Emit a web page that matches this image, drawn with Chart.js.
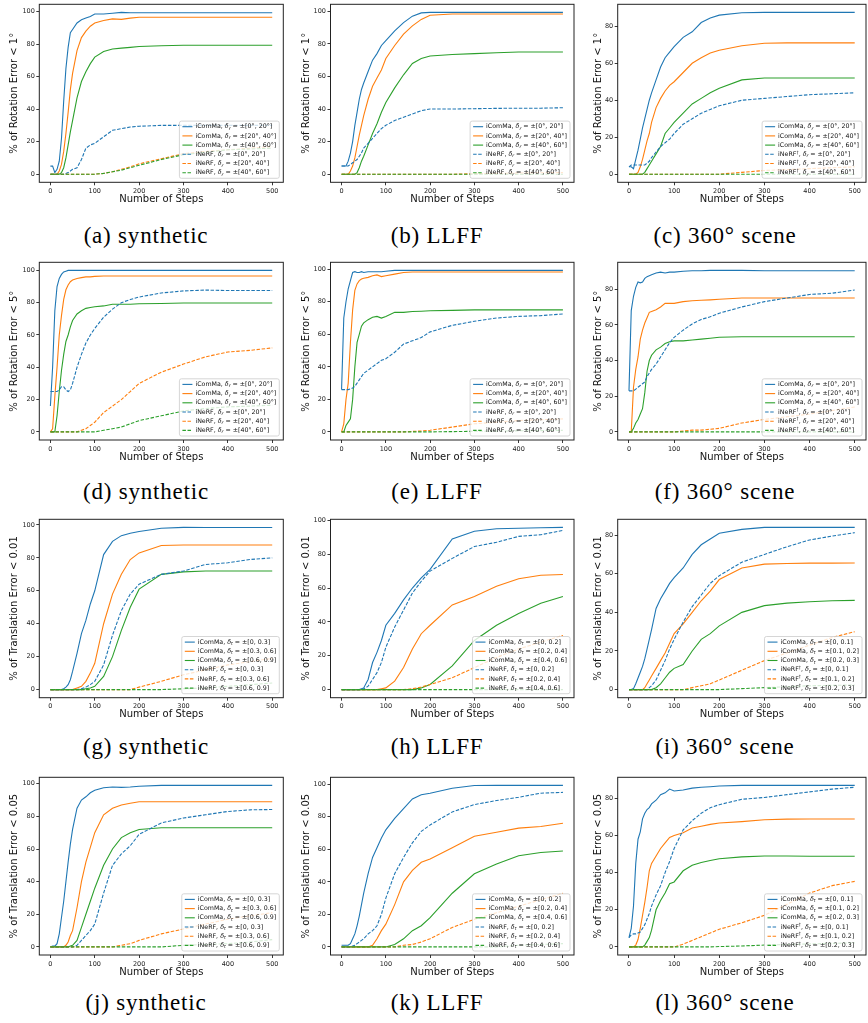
<!DOCTYPE html>
<html><head><meta charset="utf-8">
<script src="https://cdn.jsdelivr.net/npm/chart.js@4.4.1/dist/chart.umd.min.js"></script>
<style>
html,body{margin:0;padding:0;background:#fff;}
body{width:868px;height:1023px;position:relative;overflow:hidden;}
canvas{position:absolute;}
.cap{position:absolute;font-family:"Liberation Serif","Times New Roman",serif;font-size:23px;line-height:23px;color:#000;white-space:nowrap;transform:translateX(-50%);letter-spacing:0.8px;}
</style></head><body>
<script>
// ---------- data ----------
const STEPS = [0,5,10,15,20,25,30,35,40,45,50,60,70,80,90,100,120,140,160,180,200,250,300,350,400,450,500];
const X_TICKS = [0,100,200,300,400,500];
const Y_TICKS = [0,20,40,60,80,100];

const LABELS_ROT = ['iComMa, δᵣ = ±[0°, 20°]','iComMa, δᵣ = ±[20°, 40°]','iComMa, δᵣ = ±[40°, 60°]','iNeRF, δᵣ = ±[0°, 20°]','iNeRF, δᵣ = ±[20°, 40°]','iNeRF, δᵣ = ±[40°, 60°]'];
const LABELS_ROT_360 = ['iComMa, δᵣ = ±[0°, 20°]','iComMa, δᵣ = ±[20°, 40°]','iComMa, δᵣ = ±[40°, 60°]','iNeRF†, δᵣ = ±[0°, 20°]','iNeRF†, δᵣ = ±[20°, 40°]','iNeRF†, δᵣ = ±[40°, 60°]'];
const LABELS_T_SYN = ['iComMa, δₜ = ±[0, 0.3]','iComMa, δₜ = ±[0.3, 0.6]','iComMa, δₜ = ±[0.6, 0.9]','iNeRF, δₜ = ±[0, 0.3]','iNeRF, δₜ = ±[0.3, 0.6]','iNeRF, δₜ = ±[0.6, 0.9]'];
const LABELS_T_LLFF = ['iComMa, δₜ = ±[0, 0.2]','iComMa, δₜ = ±[0.2, 0.4]','iComMa, δₜ = ±[0.4, 0.6]','iNeRF, δₜ = ±[0, 0.2]','iNeRF, δₜ = ±[0.2, 0.4]','iNeRF, δₜ = ±[0.4, 0.6]'];
const LABELS_T_360 = ['iComMa, δₜ = ±[0, 0.1]','iComMa, δₜ = ±[0.1, 0.2]','iComMa, δₜ = ±[0.2, 0.3]','iNeRF†, δₜ = ±[0, 0.1]','iNeRF†, δₜ = ±[0.1, 0.2]','iNeRF†, δₜ = ±[0.2, 0.3]'];

// (a) synthetic, rotation < 1°
const A_IC1 = [5,5,1,3,8,22,45,65,78,87,89,93,95,96,97,98.5,98.5,99,99.5,99.3,99.3,99.3,99.3,99.3,99.3,99.3,99.3];
const A_IC2 = [0,0,0,0,2,6,14,25,38,52,62,76,84,88,91,93,94.5,95.5,95.2,96,96.5,96.5,96.5,96.5,96.5,96.5,96.5];
const A_IC3 = [0,0,0,0,0,1,4,10,18,26,33,47,57,63,68,72,75.5,77,77.5,78,78.5,79,79.3,79.3,79.3,79.3,79.3];
const A_IN1 = [0,0,0,0,0,0,0,0.5,1,2,3,4,9,16,18,19,23,27,28,29,29.5,30,30,30,30,30,30];
const A_IN2 = [0,0,0,0,0,0,0,0,0,0,0,0,0,0,0,0,0.5,1.5,3,4.5,6.4,9.5,12.6,14,15,16,17];
const A_IN3 = [0,0,0,0,0,0,0,0,0,0,0,0,0,0,0,0,0.5,1.5,2.5,4,5.5,9,12,13.5,15,15.5,16];
// (b) LLFF, rotation < 1°
const B_IC1 = [5,5,5,8,13,20,30,38,46,52,56,63,70,74,79,82,88,93,97,99,99.3,99.3,99.3,99.3,99.3,99.3,99.3];
const B_IC2 = [0,0,0,0,2,5,10,17,24,30,36,46,54,59,64,71,79,86,91,95,97.5,98.3,98.3,98.3,98.3,98.3,98.3];
const B_IC3 = [0,0,0,0,0,0,0,1,4,8,11,18,25,31,38,44,53,61,68,71,72.5,73.5,74,74.5,75,75,75];
const B_IN1 = [5,5,5,5,6,7,8,9,11,13,16,19,22,25,28,30,33,35,37,39,40,40,40.2,40.4,40.5,40.5,40.8];
const B_IN2 = [0,0,0,0,0,0,0,0,0,0,0,0,0,0,0,0,0,0,0,0,0,0,0.3,0.5,0.7,0.9,1];
const B_IN3 = [0,0,0,0,0,0,0,0,0,0,0,0,0,0,0,0,0,0,0,0,0,0,0,0,0,0,0];
// (c) 360° scene, rotation < 1°
const C_IC1 = [4,4,3,8,13,19,25,30,35,40,44,51,58,63,66,69,74,77,82,84.5,86,87.3,87.5,87.5,87.5,87.5,87.5];
const C_IC2 = [0,0,0,0,1,4,8,13,18,22,28,36,41,45,48,50,55,60,63,65.5,67,69.5,70.8,71,71,71,71];
const C_IC3 = [0,0,0,0,0,0,0,1,3,5,7,11,15,22,25,28,33,38,41,44,46.5,51,52,52,52,52,52];
const C_IN1 = [4,5,5,5,5,5,5,5,6,7,9,12,15,17,19,22,27,30,33,35,37,40,41,42,43,43.5,44];
const C_IN2 = [0,0,0,0,0,0,0,0,0,0,0,0,0,0,0,0,0,0,0,0,0,1,2,2.5,3,3.5,4];
const C_IN3 = [0,0,0,0,0,0,0,0,0,0,0,0,0,0,0,0,0,0,0,0,0,0,0,0,0,0,0];
// (d) synthetic, rotation < 5°
const D_IC1 = [16,40,75,90,95,97.5,99,99.5,100,100,100,100,100,100,100,100,100,100,100,100,100,100,100,100,100,100,100];
const D_IC2 = [0,2,22,40,60,72,82,88,91,93,94,95,95.5,96,96,96.3,96.5,96.5,96.5,96.5,96.5,96.5,96.5,96.5,96.5,96.5,96.5];
const D_IC3 = [0,0,0,10,25,38,48,56,60,65,69,73,75,76.5,77,77.5,78,79,79,79,79.3,79.5,79.8,79.8,79.8,79.8,79.8];
const D_IN1 = [25,25,25,25,26,28,28,26,25,26,30,40,48,55,60,64,71,76,80,82,83.5,86,87.3,87.8,87.5,87.5,87.5];
const D_IN2 = [0,0,0,0,0,0,0,0,0,0,0,0,1,2,4,6,12,16,20,25,30,37,42,46.5,49.5,50.5,52];
const D_IN3 = [0,0,0,0,0,0,0,0,0,0,0,0,0,0,0,0,1,2,3,5,7,10,13,14.5,15.5,16,16.5];
// (e) LLFF, rotation < 5°
const E_IC1 = [26,70,80,88,93,98,98.5,98,98,98.5,98,98.5,98.5,98.5,98.5,98.8,99.3,99.3,99.3,99.3,99.3,99.3,99.3,99.3,99.3,99.3,99.3];
const E_IC2 = [0,5,20,30,55,75,87,91,93,94,94.5,95,96,96.5,95.5,96,97,98,98.3,98.3,98.3,98.3,98.3,98.3,98.3,98.3,98.3];
const E_IC3 = [0,0,4,6,8,20,40,55,60,65,67,69,70.5,71,70,71,73.5,73.5,74,74.2,74.5,74.7,75,75,75,75,75];
const E_IN1 = [26,26,26,26,26.5,27,28,30,32,34,36,38,40,42,44,45,49,54,56,58,61.5,65.5,68,70,71,71.5,72.5];
const E_IN2 = [0,0,0,0,0,0,0,0,0,0,0,0,0,0,0,0,0,0,0.3,0.6,1,3,5,6,7,7.5,8];
const E_IN3 = [0,0,0,0,0,0,0,0,0,0,0,0,0,0,0,0,0,0,0,0,0,0.2,0.4,0.5,0.7,0.8,1];
// (f) 360° scene, rotation < 5°
const F_IC1 = [23,68,76,81,84,83.5,84,86,87,87.5,88,89,89.5,89,89.5,89.5,90,90.3,90.3,90.5,90.5,90.5,90.3,90.3,90.3,90.3,90.3];
const F_IC2 = [0,0,25,35,42,52,57,61,64,67,67.5,68.5,70,72,72,72,73,73.5,73.8,74,74.3,75,75,75,75,75,75];
const F_IC3 = [0,0,2,5,7,10,13,22,34,40,43,46,47.5,49.5,50.5,51,51,51.5,52,52.5,53,53.3,53.3,53.3,53.3,53.3,53.3];
const F_IN1 = [23,23,23,24,25,26,27,28,31,33,35,38,42,46,50,53,57,60.5,63,64.5,66.5,70,73,75,77,77.7,79.5];
const F_IN2 = [0,0,0,0,0,0,0,0,0,0,0,0,0,0,0,0,0.5,1,1,1.5,2,5,7,8.5,10,12,14];
const F_IN3 = [0,0,0,0,0,0,0,0,0,0,0,0,0,0,0,0,0,0,0,0,0,0,0,0,0,0,0];
// (g) synthetic, translation < 0.01
const G_IC1 = [0,0,0,0,0,0,0.5,1.5,3,6,11,22,34,42,52,60,82,90,93.5,95,96,98,98.5,98.4,98.4,98.4,98.4];
const G_IC2 = [0,0,0,0,0,0,0,0,0,0,0,1,2,5,10,16,40,58,70,79,83,87.5,87.8,87.8,87.8,87.8,87.8];
const G_IC3 = [0,0,0,0,0,0,0,0,0,0,0,0,0,0.5,1,2,8,20,36,50,61,70,71.5,72,72,72,72];
const G_IN1 = [0,0,0,0,0,0,0,0,0,0,0,0,0.5,1.5,3,5,15,33,48,58,64,70,72,76,77,79,80];
const G_IN2 = [0,0,0,0,0,0,0,0,0,0,0,0,0,0,0,0,0,0,0,0,1.5,5,9,12,15,17,19];
const G_IN3 = [0,0,0,0,0,0,0,0,0,0,0,0,0,0,0,0,0,0,0,0,0,0,0.5,1,2,3,4];
// (h) LLFF, translation < 0.01
const H_IC1 = [0,0,0,0,0,0,0,0,0,0.5,1,6,16,22,29,38,45,53,60,66,71,89,93.5,95,95.3,95.6,95.8];
const H_IC2 = [0,0,0,0,0,0,0,0,0,0,0,0,0,0,0.5,1,5,13,24,33,38,50,55,61,65.5,67.5,68];
const H_IC3 = [0,0,0,0,0,0,0,0,0,0,0,0,0,0,0,0,0,0,0,1,3,14,29,38,45,51,55];
const H_IN1 = [0,0,0,0,0,0,0,0,0,0,0.5,2,6,10,16,25,37,47,57,64,70,77.5,84.5,87,90.5,91.5,94];
const H_IN2 = [0,0,0,0,0,0,0,0,0,0,0,0,0,0,0,0,0,0,0.5,1.5,3,7,13,19,24,28,32];
const H_IN3 = [0,0,0,0,0,0,0,0,0,0,0,0,0,0,0,0,0,0,0,0,0,0,0,0,0,0,0];
// (i) 360° scene, translation < 0.01
const I_IC1 = [0,0,0.5,3,6,9,12,16,21,26,31,42,47,51,55,58,63,70,75,78,81,83,84,84,84,84,84];
const I_IC2 = [0,0,0,0,0,0,0,1,3,5,7,11,15,19,24,29,34,40,46,51,57,63,65,65.3,65.5,65.5,65.6];
const I_IC3 = [0,0,0,0,0,0,0,0,0,0,0,1,3,6,9,11,13,20,26,29,33,40,43.5,44.8,45.5,46,46.2];
const I_IN1 = [0,0,0,0,0,0,0,0,0,1,2,5,10,15,21,26,35,43,49,55,59,66,70,74,77.5,79.5,81.3];
const I_IN2 = [0,0,0,0,0,0,0,0,0,0,0,0,0,0,0,0,0,1,2,3,5,10,15,19,23,27,30];
const I_IN3 = [0,0,0,0,0,0,0,0,0,0,0,0,0,0,0,0,0,0,0,0,0,0.5,1,1.5,2,2.2,2.4];
// (j) synthetic, translation < 0.05
const J_IC1 = [0,0.5,0.5,2,8,18,28,40,52,63,72,85,90,92,94.5,96,97.5,98,97.8,98,98.5,99,99,99,99,99,99];
const J_IC2 = [0,0,0,0,0,0,0,1,3,7,10,24,40,52,61,70,81,85,87,88,89,89,89,89,89,89,89];
const J_IC3 = [0,0,0,0,0,0,0,0,0,0.5,1,4,12,20,28,36,50,60,67,70,72,73,73,73,73,73,73];
const J_IN1 = [0,0,0,0,0,0,0,0,0,0,0,1,4,7,10,14,33,50,57,62,69,76,79,81,83,84,84.2];
const J_IN2 = [0,0,0,0,0,0,0,0,0,0,0,0,0,0,0,0,0,0,1,2,4,8,11,14,17,19,21];
const J_IN3 = [0,0,0,0,0,0,0,0,0,0,0,0,0,0,0,0,0,0,0,0,0,0,1,1.5,2,3,4.5];
// (k) LLFF, translation < 0.05
const K_IC1 = [1,1,1,1,2,5,8,13,19,26,33,45,55,61,67,72,79,85,91,93.5,94.5,97.5,99.2,99.3,99.3,99.3,99.3];
const K_IC2 = [0,0,0,0,0,0,0,0,0,0,0,0,1,5,10,14,26,40,47,52,54,61,68,70.5,73,74,76];
const K_IC3 = [0,0,0,0,0,0,0,0,0,0,0,0,0,0,0,0,1.5,5,10,13,18,33,45,51,56,58,59];
const K_IN1 = [0,0,0,0,0,0.5,1,2,3,4,5,8,10,13,20,30,45,55,64,71,75,83,87.5,90,92,94.5,95];
const K_IN2 = [0,0,0,0,0,0,0,0,0,0,0,0,0,0,0,0,0,1,1.5,3,5,12,17,21,25,29,33];
const K_IN3 = [0,0,0,0,0,0,0,0,0,0,0,0,0,0,0,0,0,0,0,0,0,0,0,0,1,1.5,2];
// (l) 360° scene, translation < 0.05
const L_IC1 = [5,10,22,45,58,62,69,72,74,75,77,79,82,83,85,84,84.5,85.5,86,86.3,86.7,87,87,87,87,87,87];
const L_IC2 = [0,0,0,1,4,10,17,24,32,41,45,49,53,56,59,60,61.5,64,65,66,66.7,67.5,68.5,68.8,68.9,68.9,68.9];
const L_IC3 = [0,0,0,0,0,0,0,1,3,5,9,20,25,29,34,35,41,44,45.5,46.5,47.5,48.5,49,49,48.8,48.8,48.8];
const L_IN1 = [5,6.5,7,7,7.5,8,10,12,15,18,22,28,33,40,46,53,63,68,72,75,76.6,79.5,80.5,82,83.5,85,86];
const L_IN2 = [0,0,0,0,0,0,0,0,0,0,0,0,0,0,0,0,1.5,3.5,5.5,7.5,9.5,13,17,23,29,33,35.3];
const L_IN3 = [0,0,0,0,0,0,0,0,0,0,0,0,0,0,0,0,0,0,0,0,0.2,0.5,1,1.3,1.6,1.9,2.2];

const PANELS = [
  {row:0,col:0,cap:'(a) synthetic',  ytitle:'% of Rotation Error < 1°', labels:LABELS_ROT,     series:[A_IC1,A_IC2,A_IC3,A_IN1,A_IN2,A_IN3]},
  {row:0,col:1,cap:'(b) LLFF',       ytitle:'% of Rotation Error < 1°', labels:LABELS_ROT,     series:[B_IC1,B_IC2,B_IC3,B_IN1,B_IN2,B_IN3]},
  {row:0,col:2,cap:'(c) 360° scene', ytitle:'% of Rotation Error < 1°', labels:LABELS_ROT_360, series:[C_IC1,C_IC2,C_IC3,C_IN1,C_IN2,C_IN3]},
  {row:1,col:0,cap:'(d) synthetic',  ytitle:'% of Rotation Error < 5°', labels:LABELS_ROT,     series:[D_IC1,D_IC2,D_IC3,D_IN1,D_IN2,D_IN3]},
  {row:1,col:1,cap:'(e) LLFF',       ytitle:'% of Rotation Error < 5°', labels:LABELS_ROT,     series:[E_IC1,E_IC2,E_IC3,E_IN1,E_IN2,E_IN3]},
  {row:1,col:2,cap:'(f) 360° scene', ytitle:'% of Rotation Error < 5°', labels:LABELS_ROT_360, series:[F_IC1,F_IC2,F_IC3,F_IN1,F_IN2,F_IN3]},
  {row:2,col:0,cap:'(g) synthetic',  ytitle:'% of Translation Error < 0.01', labels:LABELS_T_SYN,  series:[G_IC1,G_IC2,G_IC3,G_IN1,G_IN2,G_IN3]},
  {row:2,col:1,cap:'(h) LLFF',       ytitle:'% of Translation Error < 0.01', labels:LABELS_T_LLFF, series:[H_IC1,H_IC2,H_IC3,H_IN1,H_IN2,H_IN3]},
  {row:2,col:2,cap:'(i) 360° scene', ytitle:'% of Translation Error < 0.01', labels:LABELS_T_360,  series:[I_IC1,I_IC2,I_IC3,I_IN1,I_IN2,I_IN3]},
  {row:3,col:0,cap:'(j) synthetic',  ytitle:'% of Translation Error < 0.05', labels:LABELS_T_SYN,  series:[J_IC1,J_IC2,J_IC3,J_IN1,J_IN2,J_IN3]},
  {row:3,col:1,cap:'(k) LLFF',       ytitle:'% of Translation Error < 0.05', labels:LABELS_T_LLFF, series:[K_IC1,K_IC2,K_IC3,K_IN1,K_IN2,K_IN3]},
  {row:3,col:2,cap:'(l) 360° scene', ytitle:'% of Translation Error < 0.05', labels:LABELS_T_360,  series:[L_IC1,L_IC2,L_IC3,L_IN1,L_IN2,L_IN3]}
];

// ---------- layout / style ----------
const COLORS = ['#1f77b4','#ff7f0e','#2ca02c'];
const COL_AREA = [[39.3,283.3],[330.5,574],[617.7,866]];
const COL_YTITLE = [14,306.7,598];
const COL_CAPX = [146,437,725];
const ROW_AREA = [[4.3,182.3],[262.3,440],[519.3,697.7],[777.3,955]];
const ROW_CAPBASE = [243,499,754,1010];
const FONT = '"DejaVu Sans", sans-serif';

function drawRich(ctx, text, x, y, size, measureOnly) {
  let w = 0;
  for (const ch of text) {
    let c = ch, f = size, dy = 0, style = '';
    if (ch === 'ᵣ') { c = 'r'; f = size*0.7; dy = size*0.3; style = 'italic '; }
    else if (ch === 'ₜ') { c = 't'; f = size*0.7; dy = size*0.3; style = 'italic '; }
    else if (ch === '†') { f = size*0.7; dy = -size*0.3; }
    else if (ch === 'δ') { style = 'italic '; }
    ctx.font = style + f + 'px ' + FONT;
    if (!measureOnly) ctx.fillText(c, x + w, y + dy);
    w += ctx.measureText(c).width;
  }
  return w;
}

const boxLegend = {
  id: 'boxLegend',
  afterDatasetsDraw(chart) {
    const ctx = chart.ctx, a = chart.chartArea, ds = chart.data.datasets;
    const fs = 6.3, rowH = 9.2, lineLen = 10, padL = 3, gap = 3, padR = 3;
    ctx.save();
    ctx.textBaseline = 'middle';
    let tw = 0;
    ds.forEach(d => { tw = Math.max(tw, drawRich(ctx, d.label, 0, 0, fs, true)); });
    const w = padL + lineLen + gap + tw + padR;
    const h = ds.length * rowH + 2;
    const x0 = a.right - 4 - w, y0 = a.bottom - 4 - h;
    ctx.beginPath();
    if (ctx.roundRect) ctx.roundRect(x0, y0, w, h, 2); else ctx.rect(x0, y0, w, h);
    ctx.fillStyle = 'rgba(255,255,255,0.8)';
    ctx.fill();
    ctx.strokeStyle = '#cccccc';
    ctx.lineWidth = 0.8;
    ctx.stroke();
    ds.forEach((d, i) => {
      const cy = y0 + 1 + rowH * (i + 0.5);
      ctx.strokeStyle = d.borderColor;
      ctx.lineWidth = d.borderWidth;
      ctx.setLineDash(d.borderDash || []);
      ctx.beginPath();
      ctx.moveTo(x0 + padL, cy);
      ctx.lineTo(x0 + padL + lineLen, cy);
      ctx.stroke();
      ctx.setLineDash([]);
      ctx.fillStyle = '#111';
      drawRich(ctx, d.label, x0 + padL + lineLen + gap, cy, fs, false);
    });
    ctx.restore();
  }
};

const frame = {
  id: 'frame',
  afterDraw(chart) {
    const ctx = chart.ctx, a = chart.chartArea;
    ctx.save();
    ctx.strokeStyle = '#222';
    ctx.lineWidth = 1;
    ctx.strokeRect(a.left, a.top, a.right - a.left, a.bottom - a.top);
    ctx.restore();
  }
};

function makePanel(p) {
  const [aL, aR] = COL_AREA[p.col];
  const [aT, aB] = ROW_AREA[p.row];
  const cl = Math.floor(aL) - 38, ct = Math.floor(aT) - 3;
  const cw = Math.ceil(aR) + 2 - cl;
  const ch = Math.ceil(aB) + 26 - ct;
  const cv = document.createElement('canvas');
  cv.width = cw; cv.height = ch;
  cv.style.left = cl + 'px'; cv.style.top = ct + 'px';
  cv.style.width = cw + 'px'; cv.style.height = ch + 'px';
  document.body.appendChild(cv);

  const mx = Math.max(...p.series.flat());
  const yTicks = Y_TICKS.filter(v => v <= mx * 1.05);
  const xAxisH = ch - (aB - ct);
  const xTitlePadB = ch - (aB + 17 - ct) - 6;
  const yTitlePadT = COL_YTITLE[p.col] - cl - 6;

  const datasets = p.series.map((s, i) => ({
    label: p.labels[i],
    data: STEPS.map((x, k) => ({x: x, y: s[k]})),
    borderColor: COLORS[i % 3],
    backgroundColor: COLORS[i % 3],
    borderWidth: 1.1,
    borderDash: i >= 3 ? [3.5, 1.6] : [],
    pointRadius: 0,
    tension: 0,
    fill: false,
    order: 5 - i
  }));

  new Chart(cv, {
    type: 'line',
    data: { datasets },
    plugins: [boxLegend, frame],
    options: {
      responsive: false,
      animation: false,
      devicePixelRatio: 1,
      layout: { padding: { left: 0, top: aT - ct, right: cl + cw - aR, bottom: 0 } },
      plugins: { legend: { display: false }, tooltip: { enabled: false } },
      scales: {
        x: {
          type: 'linear', min: -25, max: 525,
          afterBuildTicks: s => { s.ticks = X_TICKS.map(v => ({value: v})); },
          afterFit: s => { s.height = xAxisH; s.paddingLeft = 0; s.paddingRight = 0; },
          grid: { display: true, drawOnChartArea: false, drawTicks: true, tickLength: 3, tickColor: '#222', lineWidth: 0.9 },
          border: { display: false },
          ticks: { font: { family: FONT, size: 6.5 }, color: '#222', padding: 2, maxRotation: 0, autoSkip: false },
          title: { display: true, text: 'Number of Steps', font: { family: FONT, size: 10 }, color: '#111', padding: { top: 0, bottom: xTitlePadB } }
        },
        y: {
          type: 'linear', min: -0.05 * mx, max: 1.05 * mx,
          afterBuildTicks: s => { s.ticks = yTicks.map(v => ({value: v})); },
          afterFit: s => { s.width = aL - cl; s.paddingTop = 0; s.paddingBottom = 0; },
          grid: { display: true, drawOnChartArea: false, drawTicks: true, tickLength: 3, tickColor: '#222', lineWidth: 0.9 },
          border: { display: false },
          ticks: { font: { family: FONT, size: 6.5 }, color: '#222', padding: 1.5, autoSkip: false },
          title: { display: true, text: p.ytitle, font: { family: FONT, size: 10 }, color: '#111', padding: { top: yTitlePadT, bottom: 0 } }
        }
      }
    }
  });

  const cap = document.createElement('div');
  cap.className = 'cap';
  cap.textContent = p.cap;
  cap.style.left = COL_CAPX[p.col] + 'px';
  cap.style.top = (ROW_CAPBASE[p.row] - 19.3) + 'px';
  document.body.appendChild(cap);
}

PANELS.forEach(makePanel);
</script>
</body></html>
